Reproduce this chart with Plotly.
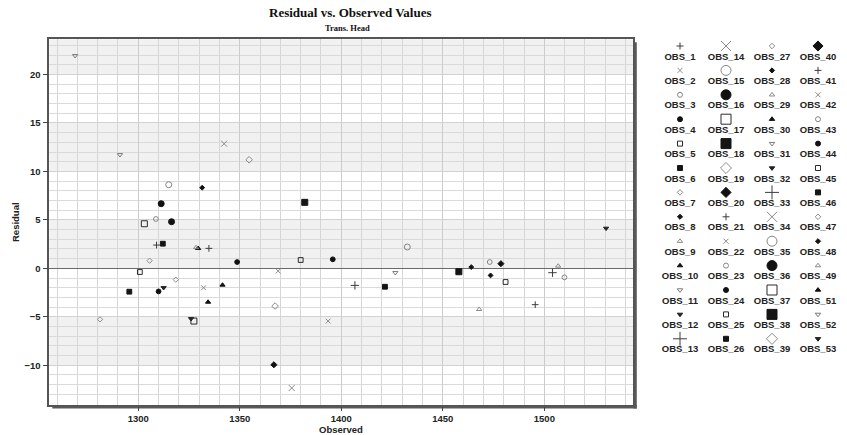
import plotly.graph_objects as go

# ---------------- data ----------------
obs_names = ["OBS_1", "OBS_2", "OBS_3", "OBS_4", "OBS_5", "OBS_6", "OBS_7", "OBS_8", "OBS_9", "OBS_10",
             "OBS_11", "OBS_12", "OBS_13", "OBS_14", "OBS_15", "OBS_16", "OBS_17", "OBS_18", "OBS_19", "OBS_20",
             "OBS_21", "OBS_22", "OBS_23", "OBS_24", "OBS_25", "OBS_26", "OBS_27", "OBS_28", "OBS_29", "OBS_30",
             "OBS_31", "OBS_32", "OBS_33", "OBS_34", "OBS_35", "OBS_36", "OBS_37", "OBS_38", "OBS_39", "OBS_40",
             "OBS_41", "OBS_42", "OBS_43", "OBS_44", "OBS_45", "OBS_46", "OBS_47", "OBS_48", "OBS_49", "OBS_51",
             "OBS_52", "OBS_53"]
observed = [1309.0, 1368.9, 1509.9, 1310.0, 1300.8, 1295.6, 1305.6, 1331.5, 1467.9, 1329.5,
            1291.0, 1312.5, 1406.7, 1375.6, 1315.0, 1311.3, 1303.0, 1382.0, 1354.6, 1478.6,
            1334.8, 1332.2, 1308.7, 1348.7, 1480.9, 1421.5, 1318.5, 1473.5, 1328.5, 1341.5,
            1268.9, 1326.0, 1504.0, 1342.3, 1432.5, 1316.4, 1327.4, 1457.9, 1367.4, 1366.8,
            1495.5, 1393.5, 1473.1, 1395.8, 1380.0, 1312.1, 1281.2, 1464.0, 1506.8, 1334.4,
            1426.6, 1530.4]
residual = [2.40, -0.28, -0.93, -2.38, -0.38, -2.41, 0.79, 8.32, -4.23, 2.06,
            11.72, -2.00, -1.76, -12.35, 8.63, 6.67, 4.60, 6.81, 11.20, 0.48,
            2.06, -2.00, 5.09, 0.65, -1.41, -1.90, -1.17, -0.73, 2.15, -1.72,
            21.94, -5.20, -0.45, 12.86, 2.20, 4.81, -5.44, -0.35, -3.89, -9.95,
            -3.75, -5.44, 0.65, 0.93, 0.86, 2.54, -5.27, 0.13, 0.24, -3.48,
            -0.45, 4.13]
x_ticks = [1300, 1350, 1400, 1450, 1500]
y_ticks = [-10, -5, 0, 5, 10, 15, 20]
title_text = "Residual vs. Observed Values"
subtitle_text = "Trans. Head"
x_title = "Observed"
y_title = "Residual"

# ---------------- styles ----------------
W, H = 847, 435
PL, PR, PT, PB = 49.3, 633.3, 39.3, 405.0
X_RANGE = [1256.2, 1543.8]
Y_RANGE = [-14.1, 23.63]

def fx(p):
    return p / W

def fy(p):
    return (H - p) / H

sym_cycle = ["cross-thin", "x-thin", "circle-open", "circle", "square-open", "square",
             "diamond-open", "diamond", "triangle-up-open", "triangle-up",
             "triangle-down-open", "triangle-down"]
sym_color = {"cross-thin": "#3c3c3c", "x-thin": "#8a8a8a", "circle-open": "#858585",
             "circle": "#111111", "square-open": "#2a2a2a", "square": "#151515",
             "diamond-open": "#8c8c8c", "diamond": "#111111", "triangle-up-open": "#8a8a8a",
             "triangle-up": "#111111", "triangle-down-open": "#7a7a7a", "triangle-down": "#222222"}
sym_scale = {"diamond": 0.78, "diamond-open": 0.85, "triangle-up": 0.95, "triangle-up-open": 0.95,
             "triangle-down": 0.95, "triangle-down-open": 0.95}

def style_for(i):
    k = i % 20
    if k < 12:
        return sym_cycle[k], False
    return sym_cycle[k - 12], True

fig = go.Figure()

# main scatter: one trace per observation
for i, name in enumerate(obs_names):
    sym, big = style_for(i)
    col = sym_color[sym]
    sz = (6 if big else 4.8) * sym_scale.get(sym, 1.0)
    fig.add_trace(go.Scatter(
        x=[observed[i]], y=[residual[i]], mode="markers", name=name, showlegend=False,
        marker=dict(symbol=sym, size=sz, color=col, line=dict(width=1, color=col)),
        xaxis="x", yaxis="y"))

# legend grid (4 columns x 13 rows) drawn on its own axes
n_rows = 13
for i, name in enumerate(obs_names):
    sym, big = style_for(i)
    col = sym_color[sym]
    c, r = i // n_rows, i % n_rows
    sz = (10 if big else 5) * sym_scale.get(sym, 1.0)
    fig.add_trace(go.Scatter(
        x=[c], y=[r], mode="markers", showlegend=False, hoverinfo="skip", cliponaxis=False,
        marker=dict(symbol=sym, size=sz, color=col, line=dict(width=1, color=col)),
        xaxis="x2", yaxis="y2"))
    fig.add_trace(go.Scatter(
        x=[c], y=[r + 0.46], mode="text", text=[name], showlegend=False, hoverinfo="skip",
        cliponaxis=False,
        textfont=dict(family="Liberation Sans, Arial", size=9.5, color="#222222", weight="bold"),
        xaxis="x2", yaxis="y2"))

# background bands (alternating 5-unit stripes)
shapes = []
band_start = -10
while band_start < Y_RANGE[1]:
    shapes.append(dict(type="rect", xref="x", yref="y", x0=X_RANGE[0], x1=X_RANGE[1],
                       y0=band_start, y1=min(band_start + 5, Y_RANGE[1]),
                       fillcolor="#f1f1f1", line=dict(width=0), layer="below"))
    band_start += 10

# drop shadow strips of the frame
shapes.append(dict(type="rect", xref="paper", yref="paper",
                   x0=fx(PR), x1=fx(PR + 3.5), y0=fy(PB + 3.5), y1=fy(PT + 3),
                   fillcolor="#5a5a5a", line=dict(width=0), layer="below"))
shapes.append(dict(type="rect", xref="paper", yref="paper",
                   x0=fx(PL + 3), x1=fx(PR + 3.5), y0=fy(PB + 3.5), y1=fy(PB),
                   fillcolor="#5a5a5a", line=dict(width=0), layer="below"))

tick_font = dict(family="Liberation Sans, Arial", size=9.5, color="#222222", weight="bold")

fig.update_layout(
    width=W, height=H,
    margin=dict(l=0, r=0, t=0, b=0),
    paper_bgcolor="white", plot_bgcolor="white",
    shapes=shapes,
    xaxis=dict(domain=[fx(PL), fx(PR)], range=X_RANGE, tickvals=x_ticks,
               showgrid=True, gridcolor="#cccccc", gridwidth=1,
               minor=dict(dtick=10, tick0=1300, showgrid=True, gridcolor="#d6d6d6", gridwidth=1),
               ticks="outside", ticklen=4, tickcolor="#444", tickwidth=1,
               tickfont=tick_font, zeroline=False,
               showline=True, linecolor="#555555", linewidth=1.5, mirror=True),
    yaxis=dict(domain=[fy(PB), fy(PT)], range=Y_RANGE, tickvals=y_ticks,
               showgrid=True, gridcolor="#d2d2d2", gridwidth=1,
               minor=dict(dtick=1, tick0=0, showgrid=True, gridcolor="#dadada", gridwidth=1),
               ticks="outside", ticklen=5, tickcolor="#444", tickwidth=1,
               tickfont=tick_font, zeroline=True, zerolinecolor="#6a6a6a", zerolinewidth=1,
               showline=True, linecolor="#555555", linewidth=1.5, mirror=True),
    xaxis2=dict(domain=[fx(657), fx(841)], range=[-0.5, 3.5], visible=False, fixedrange=True,
                anchor="y2"),
    yaxis2=dict(domain=[fy(46 + 12.9 * 24.4), fy(46 - 0.6 * 24.4)], range=[12.9, -0.6],
                visible=False, fixedrange=True, anchor="x2"),
    annotations=[
        dict(text=title_text, xref="paper", yref="paper", x=fx(350), y=fy(13),
             showarrow=False, xanchor="center", yanchor="middle",
             font=dict(family="Liberation Serif, Times New Roman", size=13, color="#111", weight="bold")),
        dict(text=subtitle_text, xref="paper", yref="paper", x=fx(347), y=fy(28),
             showarrow=False, xanchor="center", yanchor="middle",
             font=dict(family="Liberation Serif, Times New Roman", size=8.5, color="#111", weight="bold")),
        dict(text=x_title, xref="paper", yref="paper", x=fx(341), y=fy(429), borderpad=0,
             showarrow=False, xanchor="center", yanchor="middle",
             font=dict(family="Liberation Sans, Arial", size=9.5, color="#222", weight="bold")),
        dict(text=y_title, xref="paper", yref="paper", x=fx(15), y=fy(222), textangle=-90,
             showarrow=False, xanchor="center", yanchor="middle",
             font=dict(family="Liberation Sans, Arial", size=9.5, color="#222", weight="bold")),
    ],
)

fig.write_html("out.html", config={"displayModeBar": False},
               post_script="document.body.style.margin='0px';document.body.style.overflow='hidden';")
